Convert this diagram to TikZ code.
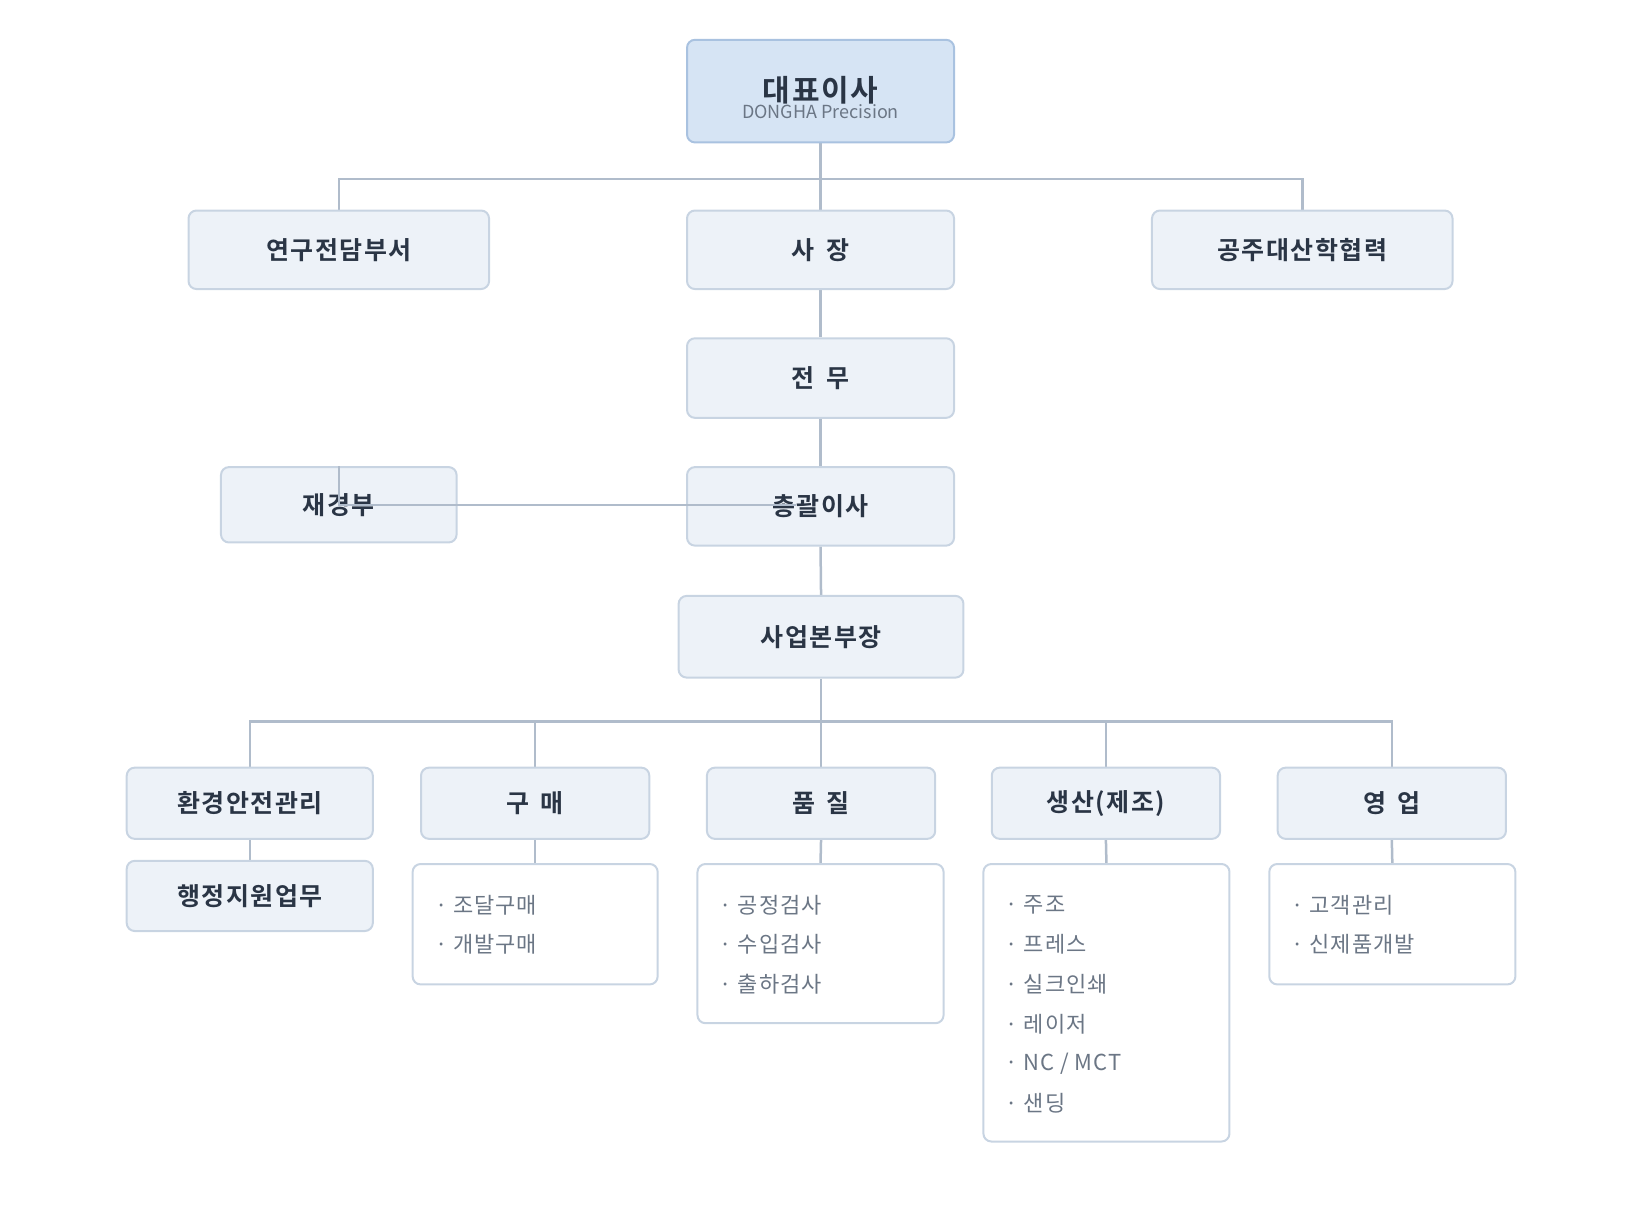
\documentclass[tikz,border=0pt]{standalone}
\usepackage{fontspec}
\setmainfont{Noto Sans CJK KR}
\newfontfamily\bfk[LetterSpace=6]{Noto Sans CJK KR Bold}
\newfontfamily\rgk[LetterSpace=4]{Noto Sans CJK KR}
\usetikzlibrary{backgrounds}
\definecolor{ln}{HTML}{B0BCCB}
\definecolor{bx}{HTML}{EDF2F8}
\definecolor{bd}{HTML}{C8D4E2}
\definecolor{tf}{HTML}{D6E4F4}
\definecolor{tb}{HTML}{A9C2E0}
\definecolor{tx}{HTML}{2A3545}
\definecolor{gx}{HTML}{6B7685}
\newcommand{\gap}{\hspace{0.45em}}
\begin{document}
\begin{tikzpicture}[x=1.047pt,y=-1.047pt,
  box/.style={draw=bd,fill=bx,line width=2pt,rounded corners=8pt,inner sep=0pt,text=tx,font=\fontsize{25}{28}\bfk},
  lst/.style={draw=bd,fill=white,line width=2pt,rounded corners=8pt},
  item/.style={anchor=west,text=gx,font=\fontsize{22}{26}\rgk},
  con/.style={draw=ln,line width=2.5pt}]
\useasboundingbox (0,0) rectangle (1566,1175);
\node[box,draw=tb,fill=tf,minimum width=255*1.047pt,minimum height=98*1.047pt] (ceo) at (783.5,87) {};
\node[text=tx,font=\fontsize{30}{32}\bfk] (ceot) at (783.5,86) {대표이사};
\node[text=gx,font=\fontsize{18}{20}\selectfont] (ceos) at (783.5,107) {DONGHA Precision};
\node[box,minimum width=287*1.047pt,minimum height=75*1.047pt] (rnd) at (323.5,238.5) {연구전담부서};
\node[box,minimum width=255*1.047pt,minimum height=75*1.047pt] (sa) at (783.5,238.5) {사\gap 장};
\node[box,minimum width=287*1.047pt,minimum height=75*1.047pt] (gj) at (1243.5,238.5) {공주대산학협력};
\node[box,minimum width=255*1.047pt,minimum height=76*1.047pt] (jm) at (783.5,361) {전\gap 무};
\node[box,minimum width=225*1.047pt,minimum height=72*1.047pt] (jg) at (323.5,482) {재경부};
\node[box,minimum width=255*1.047pt,minimum height=75*1.047pt] (cg) at (783.5,483.5) {총괄이사};
\node[box,minimum width=272*1.047pt,minimum height=78*1.047pt] (sb) at (784,608) {사업본부장};
\foreach \n/\x/\w/\t in {d1/238.5/235/환경안전관리,d2/511/218/구\gap 매,d3/784/218/품\gap 질,d4/1056/218/생산(제조),d5/1329/218/영\gap 업}
  \node[box,minimum width=\w*1.047pt,minimum height=68*1.047pt] (\n) at (\x,767) {\t};
\node[box,minimum width=235*1.047pt,minimum height=67*1.047pt] (hj) at (238.5,855.5) {행정지원업무};
\node[lst,minimum width=234*1.047pt,minimum height=115*1.047pt] (l2) at (511,882.5) {};
\node[lst,minimum width=235*1.047pt,minimum height=152*1.047pt] (l3) at (783.5,901) {};
\node[lst,minimum width=235*1.047pt,minimum height=265*1.047pt] (l4) at (1056.5,957.5) {};
\node[lst,minimum width=235*1.047pt,minimum height=115*1.047pt] (l5) at (1329.5,882.5) {};
\node[item] (a1) at (412,864) {· 조달구매};
\node[item] (a2) at (412,902) {· 개발구매};
\node[item] (b1) at (684,864) {· 공정검사};
\node[item] (b2) at (684,902) {· 수입검사};
\node[item] (b3) at (684,940) {· 출하검사};
\node[item] (c1) at (957,864) {· 주조};
\node[item] (c2) at (957,902) {· 프레스};
\node[item] (c3) at (957,940) {· 실크인쇄};
\node[item] (c4) at (957,978) {· 레이저};
\node[item] (c5) at (957,1016) {· NC / MCT};
\node[item] (c6) at (957,1053) {· 샌딩};
\node[item] (e1) at (1230,864) {· 고객관리};
\node[item] (e2) at (1230,902) {· 신제품개발};
\begin{scope}[on background layer]
\draw[con] (ceo.south) -- (sa.north);
\draw[con] (ceo.south) ++(0,34) -| (rnd.north);
\draw[con] (ceo.south) ++(0,34) -| (gj.north);
\draw[con] (sa.south) -- (jm.north);
\draw[con] (jm.south) -- (cg.north);
\draw[con] (cg.south) -- (sb.north);
\foreach \n in {d1,d2,d3,d4,d5} \draw[con] (sb.south) ++(0,41) -| (\n.north);
\draw[con] (sb.south) -- (d3.north);
\draw[con] (d1.south) -- (hj.north);
\draw[con] (d2.south) -- (l2.north);
\draw[con] (d3.south) -- (l3.north);
\draw[con] (d4.south) -- (l4.north);
\draw[con] (d5.south) -- (l5.north);
\end{scope}
\coordinate (je) at (760,482);
\draw[con] (je) -| (jg.north);
\end{tikzpicture}
\end{document}
